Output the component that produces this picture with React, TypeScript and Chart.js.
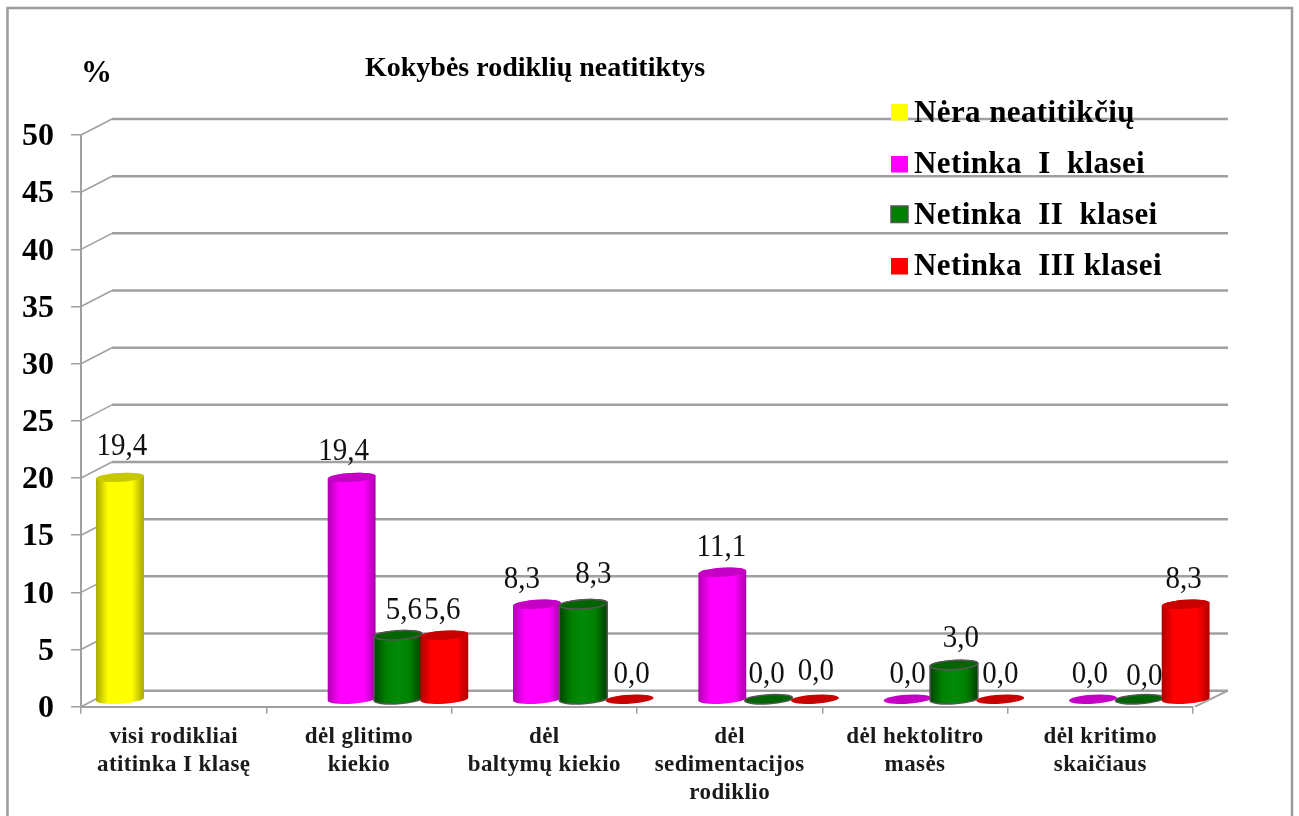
import React, { useEffect, useRef } from "react";
import { Chart, registerables } from "chart.js";

Chart.register(...registerables);

const categories: string[][] = [
  ["visi rodikliai", "atitinka I klasę"],
  ["dėl glitimo", "kiekio"],
  ["dėl", "baltymų kiekio"],
  ["dėl", "sedimentacijos", "rodiklio"],
  ["dėl hektolitro", "masės"],
  ["dėl kritimo", "skaičiaus"],
];
const neraNeatitikciu = [19.4, null, null, null, null, null];
const netinkaI = [null, 19.4, 8.3, 11.1, 0, 0];
const netinkaII = [null, 5.6, 8.3, 0, 3.0, 0];
const netinkaIII = [null, 5.6, 0, 0, 0, 8.3];
const seriesNames = ["Nėra neatitikčių", "Netinka  I  klasei", "Netinka  II  klasei", "Netinka  III klasei"];
const titleText = "Kokybės rodiklių neatitiktys";
const unitText = "%";

const SERIF = "'Liberation Serif'";
const GREY = "#a0a0a0";
const DEPTH_X = 31;
const DEPTH_Y = -16;
const BAR_DX = 15.8;
const BAR_DY = -7.5;
const RY = 4.5;
const TILT = 0.06;
const seriesStyles = [
  { edgeL: "#a8a800", mid: "#ffff00", edgeR: "#a6a600", top: "#c8c800", fill: "#ffff00", outline: "" },
  { edgeL: "#b000b0", mid: "#ff00ff", edgeR: "#a800a8", top: "#c400c4", fill: "#ff00ff", outline: "" },
  { edgeL: "#004600", mid: "#008a08", edgeR: "#004000", top: "#006400", fill: "#008000", outline: "#555555" },
  { edgeL: "#b00000", mid: "#ff0000", edgeR: "#b00000", top: "#c80000", fill: "#ff0000", outline: "" },
];
const labelNudges: [number, number][][] = [
  [[2, -6], [0, 0], [0, 0], [0, 0], [0, 0], [0, 0]],
  [[0, 0], [-8, -1], [-15, 0], [-1, 0], [0, 0], [-3, 0]],
  [[0, 0], [6, 0], [10, -5], [-2, 0], [7, -2], [5, 2]],
  [[0, 0], [-2, 0], [2, 0], [1, -3], [0, 0], [-2, 0]],
];

const chart3d = {
  id: "chart3d",
  beforeDraw(chart: any) {
    const s = chart.scales.x;
    if (!s.__spaced) {
      const orig = s.drawLabels;
      s.drawLabels = function (area: any) {
        const c = chart.ctx;
        c.save();
        c.letterSpacing = "0.4px";
        orig.call(s, area);
        c.restore();
      };
      s.__spaced = true;
    }
  },
  beforeDatasetsDraw(chart: any) {
    const { ctx, scales, chartArea } = chart;
    const y = scales.y;
    const backRight = 1228;
    ctx.save();
    // outer frame
    ctx.strokeStyle = "#9c9c9c";
    ctx.lineWidth = 2.5;
    ctx.strokeRect(7.5, 8, 1284.5, 900);
    // walls' gridlines
    ctx.strokeStyle = GREY;
    y.ticks.forEach((t: any) => {
      const py = y.getPixelForValue(t.value);
      ctx.beginPath();
      ctx.lineWidth = 1.6;
      ctx.moveTo(chartArea.left, py);
      ctx.lineTo(chartArea.left + DEPTH_X, py + DEPTH_Y);
      ctx.stroke();
      ctx.lineWidth = 2.5;
      ctx.beginPath();
      ctx.moveTo(chartArea.left + DEPTH_X, py + DEPTH_Y);
      ctx.lineTo(backRight, py + DEPTH_Y);
      ctx.stroke();
    });
    // floor right edge
    const p0 = y.getPixelForValue(0);
    ctx.lineWidth = 2;
    ctx.beginPath();
    ctx.moveTo(chartArea.right + 2, p0);
    ctx.lineTo(backRight, p0 + DEPTH_Y);
    ctx.stroke();
    // bars, first series first, so that later ones overlap
    chart.data.datasets.forEach((ds: any, i: number) => {
      const st = seriesStyles[i];
      chart.getDatasetMeta(i).data.forEach((el: any, j: number) => {
        if (ds.data[j] === null) return;
        const cx = el.x + BAR_DX;
        const topY = el.y + BAR_DY;
        const baseY = y.getPixelForValue(0) + BAR_DY;
        const rx = el.width / 2 + 0.8;
        const g = ctx.createLinearGradient(cx - rx, 0, cx + rx, 0);
        g.addColorStop(0, st.edgeL);
        g.addColorStop(0.25, st.fill);
        g.addColorStop(0.5, st.mid);
        g.addColorStop(0.75, st.fill);
        g.addColorStop(1, st.edgeR);
        ctx.beginPath();
        ctx.ellipse(cx, baseY, rx, RY, -TILT, 0, Math.PI, false);
        ctx.ellipse(cx, topY, rx, RY, -TILT, Math.PI, Math.PI * 2, false);
        ctx.closePath();
        if (ds.data[j] > 0) {
          ctx.fillStyle = g;
          ctx.fill();
          if (st.outline) {
            ctx.strokeStyle = st.outline;
            ctx.lineWidth = 1.5;
            ctx.stroke();
          }
        }
        ctx.beginPath();
        ctx.ellipse(cx, topY, rx, RY, -TILT, 0, Math.PI * 2);
        ctx.fillStyle = st.top;
        ctx.fill();
        if (st.outline) {
          ctx.strokeStyle = st.outline;
          ctx.lineWidth = 1.5;
          ctx.stroke();
        }
      });
    });
    ctx.restore();
  },
  beforeDatasetDraw() {
    return false;
  },
  afterDatasetsDraw(chart: any) {
    const { ctx } = chart;
    ctx.save();
    // value labels
    ctx.fillStyle = "#111111";
    ctx.font = `29px ${SERIF}`;
    ctx.textAlign = "center";
    ctx.textBaseline = "alphabetic";
    chart.data.datasets.forEach((ds: any, i: number) => {
      chart.getDatasetMeta(i).data.forEach((el: any, j: number) => {
        const v = ds.data[j];
        if (v === null) return;
        const [nx, ny] = labelNudges[i][j];
        ctx.save();
        ctx.translate(el.x + BAR_DX + nx, el.y + BAR_DY - 16 + ny);
        ctx.scale(1, 1.12);
        ctx.fillText(v.toFixed(1).replace(".", ","), 0, 0);
        ctx.restore();
      });
    });
    // title and unit
    ctx.textAlign = "left";
    ctx.fillStyle = "#000000";
    ctx.font = `bold 28px ${SERIF}`;
    ctx.fillText(titleText, 365, 76);
    ctx.font = `bold 31px ${SERIF}`;
    ctx.fillText(unitText, 81, 82);
    // legend
    const swatchTops = [104, 156, 206, 258];
    const baselines = [122, 173, 224, 275];
    seriesNames.forEach((name, i) => {
      ctx.fillStyle = seriesStyles[i].fill;
      ctx.fillRect(891, swatchTops[i], 17, 16.5);
      if (seriesStyles[i].outline) {
        ctx.strokeStyle = seriesStyles[i].outline;
        ctx.lineWidth = 1.5;
        ctx.strokeRect(891, swatchTops[i], 17, 16.5);
      }
      ctx.fillStyle = "#000000";
      ctx.font = `bold 31px ${SERIF}`;
      (ctx as any).letterSpacing = "0.4px";
      ctx.fillText(name, 914, baselines[i]);
      (ctx as any).letterSpacing = "0px";
    });
    ctx.restore();
  },
};

export default function App() {
  const ref = useRef<HTMLCanvasElement>(null);
  useEffect(() => {
    const chart = new Chart(ref.current as HTMLCanvasElement, {
      type: "bar",
      data: {
        labels: categories,
        datasets: [neraNeatitikciu, netinkaI, netinkaII, netinkaIII].map((data, i) => ({
          label: seriesNames[i],
          data,
          backgroundColor: seriesStyles[i].fill,
          barPercentage: 1,
          categoryPercentage: 1,
        })),
      } as any,
      plugins: [chart3d],
      options: {
        responsive: false,
        animation: false,
        layout: { padding: { top: 135, right: 106, left: 0, bottom: 0 } },
        plugins: { legend: { display: false }, title: { display: false }, tooltip: { enabled: false } },
        scales: {
          x: {
            afterFit(s: any) {
              s.height = 109.3;
            },
            border: { color: GREY, width: 2 },
            grid: { drawOnChartArea: false, drawTicks: true, tickLength: 7, color: GREY, lineWidth: 1.5 },
            ticks: {
              color: "#1a1a1a",
              padding: 9,
              maxRotation: 0,
              autoSkip: false,
              font: { family: SERIF, weight: "bold", size: 23, lineHeight: 1.215 },
            },
          },
          y: {
            min: 0,
            max: 50,
            afterFit(s: any) {
              s.width = 81;
            },
            border: { color: GREY, width: 2 },
            grid: { drawOnChartArea: false, drawTicks: true, tickLength: 10, color: GREY, lineWidth: 1.5 },
            ticks: {
              stepSize: 5,
              color: "#000000",
              padding: 17,
              labelOffset: 2,
              font: { family: SERIF, weight: "bold", size: 32 },
            },
          },
        },
      } as any,
    });
    return () => chart.destroy();
  }, []);
  return (
    <canvas
      ref={ref}
      width={1299}
      height={816}
      style={{
        position: "fixed",
        left: 0,
        top: 0,
        width: 1299,
        height: 816,
        display: "block",
        background: "#ffffff",
        filter: "blur(0.5px)",
      }}
    />
  );
}
